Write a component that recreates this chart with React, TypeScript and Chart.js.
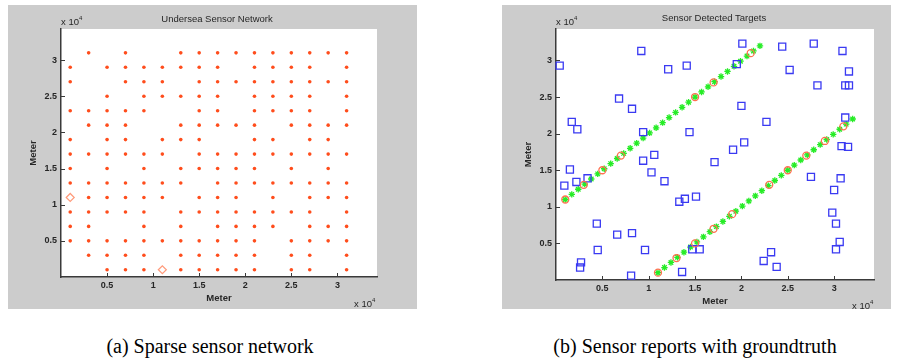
import React, { useEffect, useRef } from 'react';
import { Chart, registerables } from 'chart.js';

Chart.register(...registerables);

// ---------- data (units of 1e4 m) ----------
const axisMax = 3.43;
const xTickValues = [0.5, 1, 1.5, 2, 2.5, 3];
const yTickValues = [0.5, 1, 1.5, 2, 2.5, 3];

// sensor grid column / row positions
const sensorColX = [0.1, 0.3, 0.5, 0.7, 0.9, 1.1, 1.3, 1.5, 1.7, 1.9, 2.1, 2.3, 2.5, 2.7, 2.9, 3.1];
const sensorRowY = [3.1, 2.9, 2.7, 2.5, 2.3, 2.1, 1.9, 1.7, 1.5, 1.3, 1.1, 0.9, 0.7, 0.5, 0.3, 0.1];
// 1 = sensor present at that column, one string per row (top to bottom)
const sensorMask = [
  '0101001111111111',
  '1011111110111101',
  '1001110111111111',
  '0010111110111101',
  '1111100110111101',
  '0111001111101111',
  '1011011100110110',
  '1111110111111111',
  '1010101111101010',
  '1111111011111111',
  '0111110111010111',
  '1111101111111101',
  '1100101011110111',
  '1111111111101111',
  '0111101111101101',
  '0011101111101101',
];
// track start sensors (diamonds)
const startX = [0.1, 1.1];
const startY = [1.1, 0.1];

// ground-truth tracks (green stars)
const truth1X = [0.10, 0.17, 0.24, 0.31, 0.38, 0.45, 0.52, 0.59, 0.66, 0.73, 0.80, 0.87, 0.94, 1.01, 1.08, 1.15, 1.22, 1.29, 1.36, 1.43, 1.50, 1.57, 1.64, 1.71, 1.78, 1.85, 1.92, 1.99, 2.06, 2.13, 2.20];
const truth1Y = [1.10, 1.17, 1.24, 1.31, 1.38, 1.45, 1.52, 1.59, 1.66, 1.73, 1.80, 1.87, 1.94, 2.01, 2.08, 2.15, 2.22, 2.29, 2.36, 2.43, 2.50, 2.57, 2.64, 2.71, 2.78, 2.85, 2.92, 2.99, 3.06, 3.13, 3.20];
const truth2X = [1.10, 1.17, 1.24, 1.31, 1.38, 1.45, 1.52, 1.59, 1.66, 1.73, 1.80, 1.87, 1.94, 2.01, 2.08, 2.15, 2.22, 2.29, 2.36, 2.43, 2.50, 2.57, 2.64, 2.71, 2.78, 2.85, 2.92, 2.99, 3.06, 3.13, 3.20];
const truth2Y = [0.10, 0.17, 0.24, 0.31, 0.38, 0.45, 0.52, 0.59, 0.66, 0.73, 0.80, 0.87, 0.94, 1.01, 1.08, 1.15, 1.22, 1.29, 1.36, 1.43, 1.50, 1.57, 1.64, 1.71, 1.78, 1.85, 1.92, 1.99, 2.06, 2.13, 2.20];

// sensors that detected the targets (red circles)
const detectX = [0.1, 0.3, 0.5, 0.7, 1.5, 1.7, 2.1, 1.1, 1.3, 1.5, 1.7, 1.9, 2.3, 2.5, 2.7, 2.9, 3.1];
const detectY = [1.1, 1.3, 1.5, 1.7, 2.5, 2.7, 3.1, 0.1, 0.3, 0.5, 0.7, 0.9, 1.3, 1.5, 1.7, 1.9, 2.1];

// sensor reports (blue squares)
const reportX = [0.04, 0.92, 1.21, 1.41, 2.01, 1.95, 2.44, 2.52, 2.78, 2.82, 3.09, 3.16, 3.12, 3.16, 0.68, 0.82, 2.00, 0.17, 0.23, 0.94,
  1.44, 2.27, 3.12, 2.03, 1.91, 3.08, 3.15, 1.06, 0.94, 1.71, 0.15, 1.03, 2.75, 0.09, 0.22, 0.34, 1.17, 3.07, 3.00, 1.33,
  1.39, 1.51, 2.98, 3.02, 0.44, 0.66, 0.82, 3.06, 3.02, 0.45, 0.96, 1.47, 1.55, 2.32, 2.24, 2.38, 0.27, 0.26, 0.81, 1.36];
const reportY = [2.93, 3.13, 2.88, 2.93, 3.23, 2.95, 3.19, 2.87, 3.23, 2.66, 3.13, 2.85, 2.66, 2.66, 2.48, 2.34, 2.38, 2.16, 2.06, 2.02,
  2.02, 2.16, 2.22, 1.88, 1.78, 1.83, 1.82, 1.71, 1.63, 1.61, 1.51, 1.47, 1.41, 1.29, 1.34, 1.39, 1.35, 1.39, 1.23, 1.07,
  1.11, 1.14, 0.92, 0.77, 0.77, 0.62, 0.64, 0.52, 0.42, 0.41, 0.41, 0.42, 0.42, 0.38, 0.26, 0.18, 0.24, 0.17, 0.06, 0.11];

// ---------- helpers ----------
const FONT = '"Liberation Sans", Arial, sans-serif';
const TEXT = '#262626';

const zip = (xs: number[], ys: number[]) => xs.map((x, i) => ({ x, y: ys[i] }));

function sensorPoints() {
  const pts: { x: number; y: number }[] = [];
  sensorRowY.forEach((y, r) => {
    sensorMask[r].split('').forEach((c, i) => {
      if (c === '1') pts.push({ x: sensorColX[i], y });
    });
  });
  return pts;
}

const framePlugin = {
  id: 'frame',
  beforeDraw(chart: any) {
    const { ctx, chartArea: a, width, height } = chart;
    ctx.save();
    ctx.fillStyle = '#cccccc';
    ctx.fillRect(0, 0, width, height);
    ctx.fillStyle = '#ffffff';
    ctx.fillRect(a.left, a.top, a.right - a.left, a.bottom - a.top);
    ctx.restore();
  },
  afterDraw(chart: any) {
    const { ctx, chartArea: a, scales } = chart;
    ctx.save();
    ctx.strokeStyle = '#3a3a3a';
    ctx.lineWidth = 1;
    scales.x.ticks.forEach((t: any) => {
      const px = Math.round(scales.x.getPixelForValue(t.value)) + 0.5;
      ctx.beginPath();
      ctx.moveTo(px, a.bottom);
      ctx.lineTo(px, a.bottom - 4);
      ctx.stroke();
    });
    scales.y.ticks.forEach((t: any) => {
      const py = Math.round(scales.y.getPixelForValue(t.value)) + 0.5;
      ctx.beginPath();
      ctx.moveTo(a.left, py);
      ctx.lineTo(a.left + 4, py);
      ctx.stroke();
    });
    ctx.restore();
  },
};

function axis(kind: 'x' | 'y', size: number) {
  return {
    type: 'linear',
    position: kind === 'x' ? 'bottom' : 'left',
    min: 0,
    max: axisMax,
    afterBuildTicks: (ax: any) => {
      ax.ticks = (kind === 'x' ? xTickValues : yTickValues).map((v) => ({ value: v }));
    },
    afterFit: (ax: any) => {
      if (kind === 'x') ax.height = size;
      else ax.width = size;
    },
    grid: { display: true, drawOnChartArea: false, drawTicks: false },
    border: { display: true, color: '#3a3a3a', width: 1.5 },
    ticks: {
      autoSkip: false,
      maxRotation: 0,
      padding: kind === 'x' ? 3 : 4,
      color: TEXT,
      font: { family: FONT, size: 9, weight: 'bold' },
      callback: (v: any) => String(v),
    },
    title: {
      display: true,
      text: 'Meter',
      color: TEXT,
      padding: 0,
      font: { family: FONT, size: 9.5, weight: 'bold' },
    },
  };
}

function makeOptions(p: { l: number; r: number; t: number; b: number; yW: number; xH: number }) {
  return {
    responsive: false,
    maintainAspectRatio: false,
    animation: false,
    events: [],
    layout: { padding: { left: p.l, right: p.r, top: p.t, bottom: p.b } },
    plugins: { legend: { display: false }, tooltip: { enabled: false }, title: { display: false } },
    scales: { x: axis('x', p.xH), y: axis('y', p.yW) },
  };
}

function configA(): any {
  return {
    type: 'scatter',
    data: {
      datasets: [
        {
          data: zip(startX, startY),
          pointStyle: 'rectRot',
          pointRadius: 4,
          borderColor: '#ff9a7a',
          backgroundColor: 'rgba(0,0,0,0)',
          borderWidth: 1.2,
          clip: false,
        },
        {
          data: sensorPoints(),
          pointStyle: 'circle',
          pointRadius: 1.8,
          backgroundColor: '#ff4d1c',
          borderWidth: 0,
          clip: false,
        },
      ],
    },
    options: makeOptions({ l: 19.3, r: 40, t: 24, b: 5.3, yW: 33.7, xH: 26.7 }),
    plugins: [framePlugin],
  };
}

function configB(): any {
  return {
    type: 'scatter',
    data: {
      datasets: [
        {
          data: zip(detectX, detectY),
          pointStyle: 'circle',
          pointRadius: 3.5,
          borderColor: '#ff7050',
          backgroundColor: 'rgba(0,0,0,0)',
          borderWidth: 1.3,
          clip: false,
        },
        {
          data: zip(reportX, reportY),
          pointStyle: 'rect',
          pointRadius: 5,
          borderColor: '#3a3af2',
          backgroundColor: 'rgba(0,0,0,0)',
          borderWidth: 1.3,
          clip: false,
        },
        {
          data: zip(truth1X, truth1Y).concat(zip(truth2X, truth2Y)),
          pointStyle: 'star',
          pointRadius: 3.2,
          borderColor: '#26ec26',
          backgroundColor: '#26ec26',
          borderWidth: 1.3,
          clip: false,
        },
      ],
    },
    options: makeOptions({ l: 20.3, r: 17, t: 24, b: 2.3, yW: 33.7, xH: 26.7 }),
    plugins: [framePlugin],
  };
}

function ChartCanvas(props: { left: number; top: number; width: number; height: number; config: () => any }) {
  const ref = useRef<HTMLCanvasElement | null>(null);
  useEffect(() => {
    const chart = new Chart(ref.current as HTMLCanvasElement, props.config());
    return () => chart.destroy();
  }, []);
  return (
    <canvas
      ref={ref}
      width={props.width}
      height={props.height}
      style={{ position: 'absolute', left: props.left, top: props.top, width: props.width, height: props.height }}
    />
  );
}

function Txt(props: { x: number; y: number; children: any; style?: any; center?: boolean }) {
  return (
    <div
      style={{
        position: 'absolute',
        left: props.x,
        top: props.y,
        transform: props.center ? 'translate(-50%, -50%)' : 'translate(0, -50%)',
        whiteSpace: 'nowrap',
        lineHeight: 1,
        fontFamily: FONT,
        color: TEXT,
        ...props.style,
      }}
    >
      {props.children}
    </div>
  );
}

function Exp(props: { x: number; y: number }) {
  return (
    <Txt x={props.x} y={props.y} style={{ fontSize: 9.5 }}>
      x 10<sup style={{ fontSize: 6, position: 'relative', top: -1 }}>4</sup>
    </Txt>
  );
}

export default function App() {
  return (
    <div style={{ position: 'absolute', left: 0, top: 0, width: 901, height: 359, background: '#fff', overflow: 'hidden' }}>
      <ChartCanvas left={8} top={5} width={409} height={304} config={configA} />
      <ChartCanvas left={502} top={5} width={389} height={304} config={configB} />

      <Txt x={217} y={19} center style={{ fontSize: 9.5 }}>Undersea Sensor Network</Txt>
      <Txt x={714} y={18} center style={{ fontSize: 9.5 }}>Sensor Detected Targets</Txt>

      <Exp x={61} y={21} />
      <Exp x={354} y={303} />
      <Exp x={556} y={21} />
      <Exp x={852} y={305} />

      <Txt x={210} y={346} center style={{ fontFamily: '"Liberation Serif", "Times New Roman", serif', fontSize: 20, color: '#000' }}>
        (a) Sparse sensor network
      </Txt>
      <Txt x={695} y={346} center style={{ fontFamily: '"Liberation Serif", "Times New Roman", serif', fontSize: 20, color: '#000' }}>
        (b) Sensor reports with groundtruth
      </Txt>
    </div>
  );
}
